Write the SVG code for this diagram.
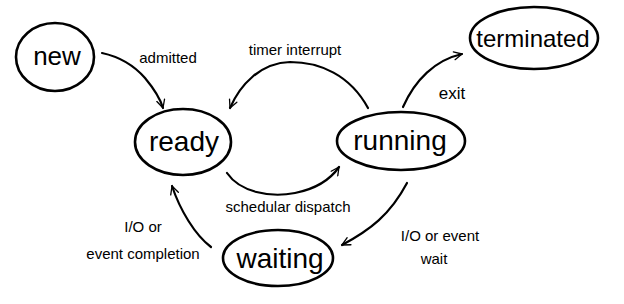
<svg xmlns="http://www.w3.org/2000/svg" width="624" height="304" viewBox="0 0 624 304">
<style>
.node{fill:none;stroke:#000;stroke-width:2.6}
.big{font-family:"Liberation Sans",Arial,sans-serif;fill:#000;text-anchor:middle}
.lbl{font-family:"Liberation Sans",Arial,sans-serif;font-size:15px;fill:#000;text-anchor:middle}
.edge{fill:none;stroke:#000;stroke-width:2.2;stroke-linecap:round;marker-end:url(#arr)}
</style>
<defs>
<marker id="arr" viewBox="0 0 20 20" refX="18" refY="10" markerWidth="10" markerHeight="10" markerUnits="userSpaceOnUse" orient="auto">
<path d="M2,2 L18,10 L2,18" fill="none" stroke="#000" stroke-width="2.6" stroke-linecap="round" stroke-linejoin="round"/>
</marker>
</defs>
<rect width="624" height="304" fill="#fff"/>
<g id="connectors">
<path class="edge" d="M102,53 C125,58 138,70 145,78 C155,90 160,98 163,108"/>
<path class="edge" d="M368,108 C350,75 320,62 290,62 C260,63 240,85 230,108"/>
<path class="edge" d="M403,107 C415,80 435,60 462,54"/>
<path class="edge" d="M227,173 C240,192 270,198 295,193 C315,189 330,180 339,167"/>
<path class="edge" d="M407,183 C390,215 370,230 342,245"/>
<path class="edge" d="M211,247 C195,235 180,210 172,186"/>
<text class="lbl" x="168" y="63">admitted</text>
<text class="lbl" x="295" y="55">timer interrupt</text>
<text class="lbl" x="452" y="99" style="font-size:17px">exit</text>
<text class="lbl" x="288" y="212">schedular dispatch</text>
<text class="lbl" x="440" y="241">I/O or event</text>
<text class="lbl" x="434" y="264">wait</text>
<text class="lbl" x="143" y="232">I/O or</text>
<text class="lbl" x="143" y="259">event completion</text>
</g>
<g id="new">
<ellipse class="node" cx="55" cy="57" rx="39" ry="34"/>
<text class="big" x="57" y="65" font-size="26">new</text>
</g>
<g id="ready">
<ellipse class="node" cx="183" cy="142" rx="48" ry="33"/>
<text class="big" x="184" y="151" font-size="28">ready</text>
</g>
<g id="running">
<ellipse class="node" cx="401" cy="141" rx="64" ry="29"/>
<text class="big" x="400" y="150" font-size="28">running</text>
</g>
<g id="terminated">
<ellipse class="node" cx="534" cy="38" rx="64" ry="31"/>
<text class="big" x="533" y="47" font-size="24">terminated</text>
</g>
<g id="waiting">
<ellipse class="node" cx="278" cy="258" rx="55" ry="28"/>
<text class="big" x="280" y="268" font-size="28">waiting</text>
</g>
</svg>
